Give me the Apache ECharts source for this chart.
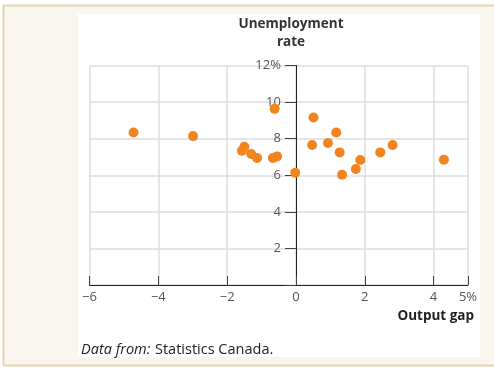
<!DOCTYPE html>
<html><head><meta charset="utf-8">
<script src="https://cdn.jsdelivr.net/npm/echarts@6/dist/echarts.min.js"></script>
<style>html,body{margin:0;padding:0;background:#fff}#c{width:494px;height:369px}</style>
</head><body><div id="c"></div>
<script>
// Output gap (%) and unemployment rate (%), Canada
const outputGap = [-4.72, -2.99, -0.62, -1.50, -1.57, -1.30, -1.13, -0.67, -0.55, -0.02, 0.51, 0.47, 0.93, 1.17, 1.27, 1.34, 1.74, 1.87, 2.45, 2.81, 4.30];
const unemployment = [8.34, 8.14, 9.63, 7.56, 7.34, 7.16, 6.94, 6.94, 7.03, 6.14, 9.16, 7.65, 7.76, 8.34, 7.25, 6.03, 6.34, 6.83, 7.25, 7.65, 6.85];
const xTickLabels = {'-6':'−6','-4':'−4','-2':'−2','0':'0','2':'2','4':'4','5':'5%'};
const yTickLabels = {'0':'','2':'2','4':'4','6':'6','8':'8','10':'10','12':'12%'};

const points = outputGap.map((x, i) => [x, unemployment[i]]);
const font = 'Open Sans';
const W = 494, gridLeft = 89.5, gridRight = 26;
const xMin = -6, xMax = 5;
const plotW = W - gridLeft - gridRight;
const zeroShift = ((0 - xMin) / (xMax - xMin)) * plotW;
const tickLen = 11;
const chart = echarts.init(document.getElementById('c'), null, {renderer: 'canvas'});
chart.setOption({
  animation: false,
  backgroundColor: '#fff',
  textStyle: {fontFamily: font},
  graphic: [
    {type: 'rect', z: -10, shape: {x: 3, y: 5, width: 491, height: 361}, style: {fill: '#f9f6ef', stroke: null}},
    {type: 'line', z: -9, shape: {x1: 3, y1: 5.5, x2: 494, y2: 5.5}, style: {stroke: '#e8d3ae', lineWidth: 2}},
    {type: 'line', z: -9, shape: {x1: 3.5, y1: 5, x2: 3.5, y2: 366}, style: {stroke: '#e8d3ae', lineWidth: 2}},
    {type: 'line', z: -9, shape: {x1: 3, y1: 365.5, x2: 494, y2: 365.5}, style: {stroke: '#e8d3ae', lineWidth: 2}},
    {type: 'rect', z: -8, shape: {x: 78, y: 14, width: 402, height: 343}, style: {fill: '#ffffff'}}
  ],
  title: [
    {text: 'Unemployment\nrate', left: 286, top: 10, textAlign: 'center',
     textStyle: {fontFamily: font, fontSize: 13.5, fontWeight: 'bold', color: '#333', lineHeight: 18}},
    {text: 'Output gap', right: 15, top: 304,
     textStyle: {fontFamily: font, fontSize: 13.5, fontWeight: 'bold', color: '#222'}},
    {text: '{i|Data from:} {n|Statistics Canada.}', left: 76, top: 336,
     textStyle: {fontWeight: 'normal', rich: {
       i: {fontFamily: font, fontStyle: 'italic', fontWeight: 'normal', fontSize: 14.5, color: '#222'},
       n: {fontFamily: font, fontWeight: 'normal', fontSize: 14.5, color: '#222'}}}}
  ],
  grid: {left: gridLeft, right: gridRight, top: 65.5, bottom: 84, containLabel: false},
  xAxis: {
    type: 'value', min: xMin, max: xMax, interval: 2,
    axisLine: {show: true, onZero: false, lineStyle: {color: '#222', width: 1}},
    axisTick: {show: true, inside: true, length: 9, lineStyle: {color: '#444', width: 1}},
    axisLabel: {color: '#555', fontSize: 13, margin: 6, formatter: v => xTickLabels[String(v)] ?? ''},
    splitLine: {show: true, lineStyle: {color: '#dedede', width: 1.5}}
  },
  yAxis: {
    type: 'value', min: 0, max: 12, interval: 2,
    axisLine: {show: true, onZero: true, lineStyle: {color: '#222', width: 1}},
    axisTick: {show: true, inside: false, length: tickLen, lineStyle: {color: '#444', width: 1}},
    axisLabel: {color: '#555', fontSize: 13, margin: -(zeroShift - tickLen - 4), formatter: v => yTickLabels[String(v)] ?? ''},
    splitLine: {show: true, lineStyle: {color: '#dedede', width: 1.5}}
  },
  series: [{
    type: 'scatter', data: points, symbolSize: 10,
    itemStyle: {color: '#f0851f', opacity: 1}, z: 5
  }]
});
</script></body></html>
